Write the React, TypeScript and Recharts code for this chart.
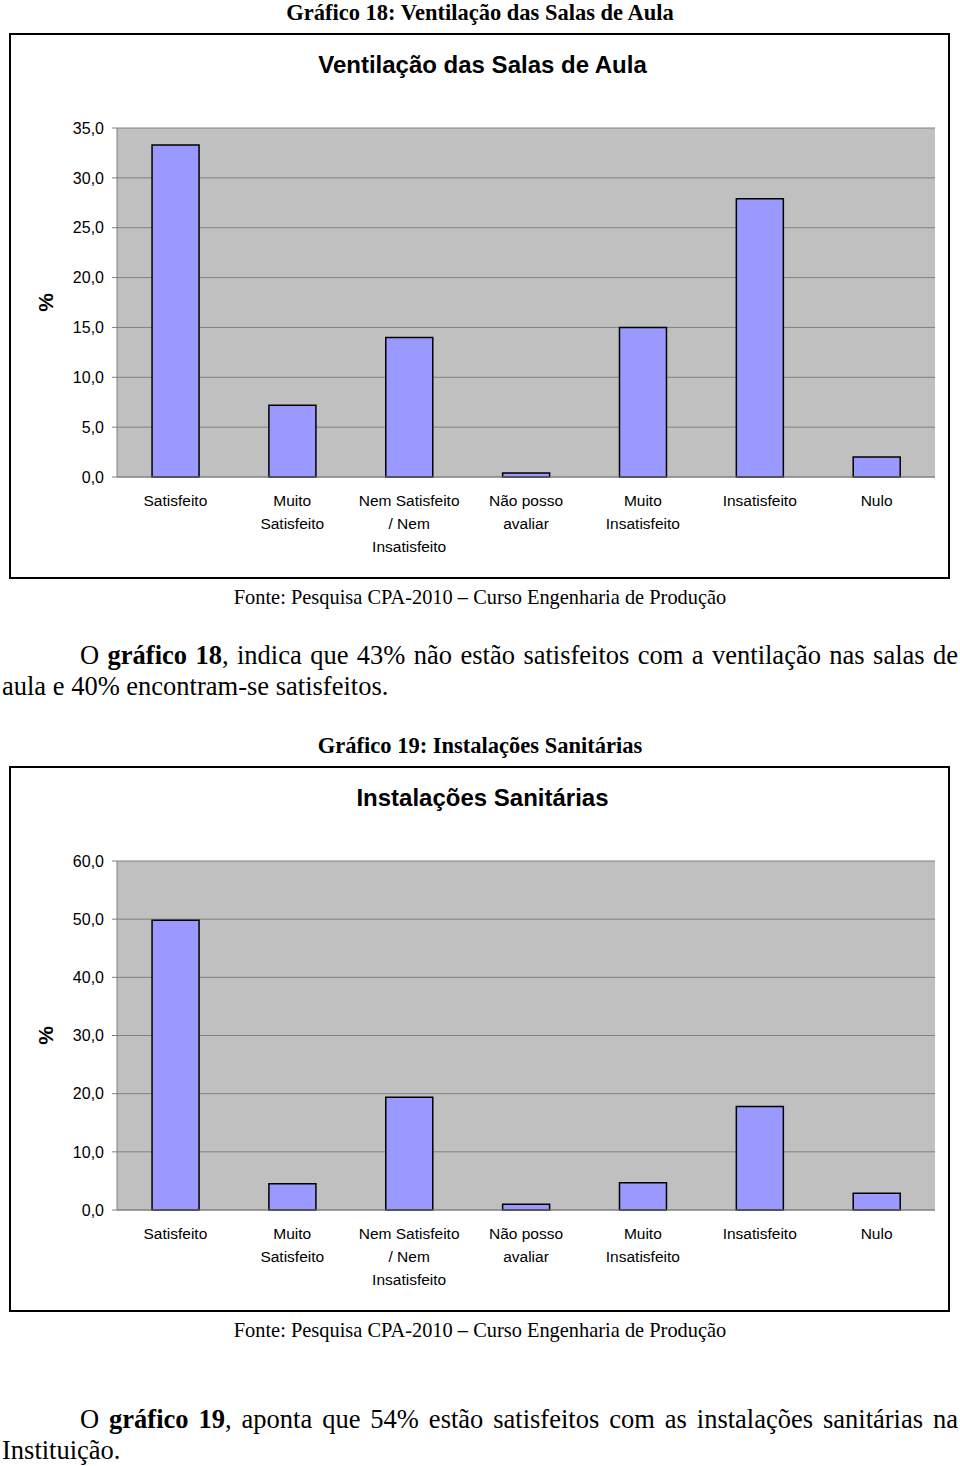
import React from "react";
import {
  BarChart,
  Bar,
  XAxis,
  YAxis,
  CartesianGrid,
} from "recharts";

// categorias (cada item = linhas do rótulo)
const categoryLabels: string[][] = [
  ["Satisfeito"],
  ["Muito", "Satisfeito"],
  ["Nem Satisfeito", "/ Nem", "Insatisfeito"],
  ["Não posso", "avaliar"],
  ["Muito", "Insatisfeito"],
  ["Insatisfeito"],
  ["Nulo"],
];

const ventilacaoValues = [33.3, 7.2, 14.0, 0.4, 15.0, 27.9, 2.0];
const sanitariasValues = [49.8, 4.5, 19.4, 1.0, 4.7, 17.8, 2.9];

const ventilacaoTicks = [0, 5, 10, 15, 20, 25, 30, 35];
const sanitariasTicks = [0, 10, 20, 30, 40, 50, 60];

const boundaryTicks = [0, 1, 2, 3, 4, 5, 6, 7];

const SANS = '"Liberation Sans", Arial, sans-serif';
const SERIF = '"Liberation Serif", "Times New Roman", serif';

const fmt = (v: number) => v.toFixed(1).replace(".", ",");

function CategoryTick(props: any) {
  const { x, y, payload } = props;
  const lines = categoryLabels[payload.index] || [];
  return (
    <g>
      {lines.map((line, i) => (
        <text
          key={i}
          x={x}
          y={y + 23 + i * 23}
          textAnchor="middle"
          dominantBaseline="central"
          fontSize={15.5}
          fontFamily={SANS}
          fill="#000"
        >
          {line}
        </text>
      ))}
    </g>
  );
}

function ChartBox({
  top,
  title,
  values,
  ticks,
}: {
  top: number;
  title: string;
  values: number[];
  ticks: number[];
}) {
  const data = values.map((v, i) => ({ idx: i, value: v }));
  return (
    <div
      style={{
        position: "absolute",
        left: 9,
        top,
        width: 937,
        height: 542,
        border: "2px solid #000",
        background: "#fff",
      }}
    >
      <div
        style={{
          position: "absolute",
          left: 3,
          top: 16,
          width: 937,
          textAlign: "center",
          fontFamily: SANS,
          fontWeight: "bold",
          fontSize: 24,
          lineHeight: "28px",
        }}
      >
        {title}
      </div>
      <div style={{ position: "absolute", left: 0, top: 0 }}>
        <BarChart
          width={937}
          height={542}
          data={data}
          margin={{ top: 93, right: 13, bottom: 0, left: 0 }}
          barCategoryGap="30%"
        >
          <CartesianGrid
            vertical={false}
            stroke="#808080"
            fill="#c0c0c0"
            fillOpacity={1}
          />
          <XAxis
            xAxisId="bounds"
            type="number"
            dataKey="idx"
            domain={[0, 7]}
            ticks={boundaryTicks}
            allowDataOverflow
            height={0}
            axisLine={false}
            tick={false}
            tickLine={{ stroke: "#808080" }}
            tickSize={5}
          />
          <XAxis
            dataKey="idx"
            height={100}
            axisLine={{ stroke: "#808080" }}
            tickLine={false}
            tickSize={0}
            tickMargin={0}
            interval={0}
            tick={<CategoryTick />}
          />
          <YAxis
            width={106}
            domain={[0, ticks[ticks.length - 1]]}
            ticks={ticks}
            interval={0}
            tickFormatter={fmt}
            axisLine={{ stroke: "#808080" }}
            tickLine={{ stroke: "#808080" }}
            tickSize={5}
            tickMargin={8}
            tick={{ fill: "#000", fontSize: 16, fontFamily: SANS }}
            label={{
              content: (p: any) => {
                const vb = p.viewBox;
                const cx = vb.x + 34;
                const cy = vb.y + vb.height / 2;
                return (
                  <text
                    x={cx}
                    y={cy}
                    transform={`rotate(-90 ${cx} ${cy})`}
                    textAnchor="middle"
                    dominantBaseline="central"
                    fontSize={21}
                    fontWeight="bold"
                    fontFamily={SANS}
                    fill="#000"
                  >
                    %
                  </text>
                );
              },
            }}
          />
          <YAxis
            yAxisId="frame"
            orientation="right"
            width={0}
            domain={[0, 1]}
            tick={false}
            tickLine={false}
            axisLine={{ stroke: "#808080" }}
          />
          <Bar
            dataKey="value"
            fill="#9999ff"
            stroke="#000"
            strokeWidth={1.5}
            isAnimationActive={false}
          />
        </BarChart>
      </div>
    </div>
  );
}

const textBase: React.CSSProperties = {
  position: "absolute",
  fontFamily: SERIF,
  color: "#000",
  whiteSpace: "nowrap",
};

function Caption({ top, text, bold, size }: { top: number; text: string; bold?: boolean; size: number }) {
  return (
    <div
      style={{
        ...textBase,
        left: 0,
        width: 960,
        top,
        textAlign: "center",
        fontSize: size,
        lineHeight: "24px",
        fontWeight: bold ? "bold" : "normal",
      }}
    >
      {text}
    </div>
  );
}

function Paragraph({
  top,
  boldPart,
  firstRest,
  secondLine,
}: {
  top: number;
  boldPart: string;
  firstRest: string;
  secondLine: string;
}) {
  return (
    <div style={{ ...textBase, left: 2, top, width: 956, fontSize: 26.5, lineHeight: "31px" }}>
      <div
        style={{
          paddingLeft: 78,
          textAlign: "justify",
          textAlignLast: "justify",
          whiteSpace: "normal",
        }}
      >
        O <b>{boldPart}</b>
        {firstRest}
      </div>
      <div>{secondLine}</div>
    </div>
  );
}

export default function App() {
  return (
    <div
      style={{
        position: "absolute",
        left: 0,
        top: 0,
        width: 960,
        height: 1466,
        background: "#fff",
        overflow: "hidden",
      }}
    >
      <Caption top={1} size={22.5} bold text="Gráfico 18: Ventilação das Salas de Aula" />
      <ChartBox
        top={33}
        title="Ventilação das Salas de Aula"
        values={ventilacaoValues}
        ticks={ventilacaoTicks}
      />
      <Caption top={585} size={20.4} text="Fonte: Pesquisa CPA-2010 – Curso Engenharia de Produção" />
      <Paragraph
        top={640}
        boldPart="gráfico 18"
        firstRest=", indica que 43% não estão satisfeitos com a ventilação nas salas de"
        secondLine="aula e 40% encontram-se satisfeitos."
      />
      <Caption top={734} size={22.5} bold text="Gráfico 19: Instalações Sanitárias" />
      <ChartBox
        top={766}
        title="Instalações Sanitárias"
        values={sanitariasValues}
        ticks={sanitariasTicks}
      />
      <Caption top={1318} size={20.4} text="Fonte: Pesquisa CPA-2010 – Curso Engenharia de Produção" />
      <Paragraph
        top={1404}
        boldPart="gráfico 19"
        firstRest=", aponta que 54% estão satisfeitos com as instalações sanitárias na"
        secondLine="Instituição."
      />
    </div>
  );
}
